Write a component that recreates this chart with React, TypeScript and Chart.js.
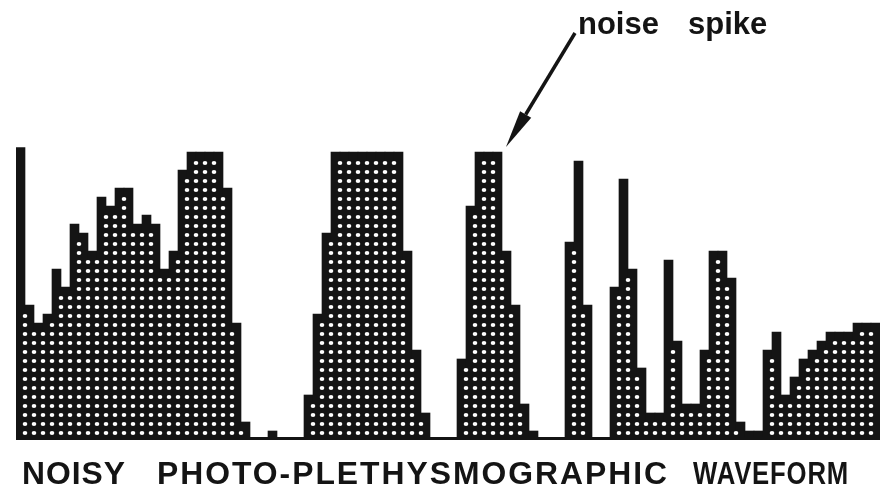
import { useEffect, useRef } from "react";
import { Chart, registerables } from "chart.js";

Chart.register(...registerables);

// Column heights, in printer dot rows, left to right
const heights = [
  32.5, 15, 13, 14, 19, 17, 24, 23, 21, 27,
  26, 28, 28, 24, 25, 24, 19, 21, 30, 32,
  32, 32, 32, 28, 13, 2, 0, 0, 1, 0,
  0, 0, 5, 14, 23, 32, 32, 32, 32, 32,
  32, 32, 32, 21, 10, 3, 0, 0, 0, 9,
  26, 32, 32, 32, 21, 15, 4, 1, 0, 0,
  0, 22, 31, 15, 0, 0, 17, 29, 19, 8,
  3, 3, 20, 11, 4, 4, 10, 21, 21, 18,
  2, 1, 1, 10, 12, 5, 7, 9, 10, 11,
  12, 12, 12, 13, 13, 13,
];
const columnLabels = heights.map((_, i) => String(i + 1));
const spikeColumn = 53; // rightmost column of the annotated noise spike
const annotationWords = ["noise", "spike"];
const titleWords = ["NOISY", "PHOTO-PLETHYSMOGRAPHIC", "WAVEFORM"];

const INK = "#141414";

const dotMatrixPlugin = {
  id: "dotMatrix",
  afterDatasetsDraw(chart: any) {
    const ctx = chart.ctx as CanvasRenderingContext2D;
    const meta = chart.getDatasetMeta(0);
    const yScale = chart.scales.y;
    const area = chart.chartArea;
    ctx.save();
    const y0 = yScale.getPixelForValue(0);
    ctx.fillStyle = INK;
    ctx.fillRect(area.left, y0 - 3, area.right - area.left, 3);
    ctx.fillStyle = "#ffffff";
    for (let i = 0; i < meta.data.length - 1; i++) {
      const a = meta.data[i];
      const b = meta.data[i + 1];
      const bx = (a.x + b.x) / 2;
      const m = Math.min(heights[i], heights[i + 1]);
      for (let j = 1; j <= m - 1; j++) {
        const py = yScale.getPixelForValue(j) + 2;
        ctx.beginPath();
        ctx.ellipse(bx, py, 2.3, 1.9, 0, 0, Math.PI * 2);
        ctx.fill();
      }
    }
    ctx.restore();
  },
  afterDraw(chart: any) {
    const ctx = chart.ctx as CanvasRenderingContext2D;
    const meta = chart.getDatasetMeta(0);
    ctx.save();
    ctx.fillStyle = INK;
    ctx.strokeStyle = INK;
    ctx.textBaseline = "alphabetic";
    ctx.textAlign = "left";

    ctx.font = "bold 31px 'Liberation Sans', Arial, sans-serif";
    ctx.fillText(annotationWords[0], 578, 34, 86);
    ctx.fillText(annotationWords[1], 688, 34, 81);

    const bar = meta.data[spikeColumn];
    const tipX = bar.x + bar.width / 2 + 4;
    const tipY = bar.y - 5;
    const sx = 575;
    const sy = 33;
    const ang = Math.atan2(tipY - sy, tipX - sx);
    const headLen = 38;
    const headW = 6.5;
    const bx = tipX - Math.cos(ang) * headLen;
    const by = tipY - Math.sin(ang) * headLen;
    ctx.lineWidth = 3.5;
    ctx.beginPath();
    ctx.moveTo(sx, sy);
    ctx.lineTo(bx, by);
    ctx.stroke();
    ctx.beginPath();
    ctx.moveTo(tipX, tipY);
    ctx.lineTo(bx - Math.sin(ang) * headW, by + Math.cos(ang) * headW);
    ctx.lineTo(bx + Math.sin(ang) * headW, by - Math.cos(ang) * headW);
    ctx.closePath();
    ctx.fill();

    ctx.font = "bold 32px 'Liberation Sans', Arial, sans-serif";
    (ctx as any).letterSpacing = "1px";
    ctx.fillText(titleWords[0], 22, 484, 104);
    (ctx as any).letterSpacing = "2px";
    ctx.fillText(titleWords[1], 157, 484, 512);
    (ctx as any).letterSpacing = "1px";
    ctx.fillText(titleWords[2], 693, 484, 156);
    ctx.restore();
  },
};

export default function App() {
  const canvasRef = useRef<HTMLCanvasElement | null>(null);

  useEffect(() => {
    const canvas = canvasRef.current;
    if (!canvas) return;
    const chart = new Chart(canvas, {
      type: "bar",
      data: {
        labels: columnLabels,
        datasets: [
          {
            data: heights,
            backgroundColor: INK,
            borderWidth: 0,
            barPercentage: 1,
            categoryPercentage: 1,
          },
        ],
      },
      options: {
        animation: false,
        responsive: false,
        devicePixelRatio: 1,
        layout: { padding: { left: 16, right: 0, top: 134, bottom: 56 } },
        plugins: {
          legend: { display: false },
          tooltip: { enabled: false },
          title: { display: false },
        },
        scales: {
          x: { display: false },
          y: { display: false, min: 0, max: 34 },
        },
      },
      plugins: [dotMatrixPlugin],
    });
    return () => chart.destroy();
  }, []);

  return (
    <div
      style={{
        position: "absolute",
        left: 0,
        top: 0,
        width: 880,
        height: 496,
        background: "#fff",
        overflow: "hidden",
      }}
    >
      <canvas ref={canvasRef} width={880} height={496} style={{ display: "block" }} />
    </div>
  );
}
